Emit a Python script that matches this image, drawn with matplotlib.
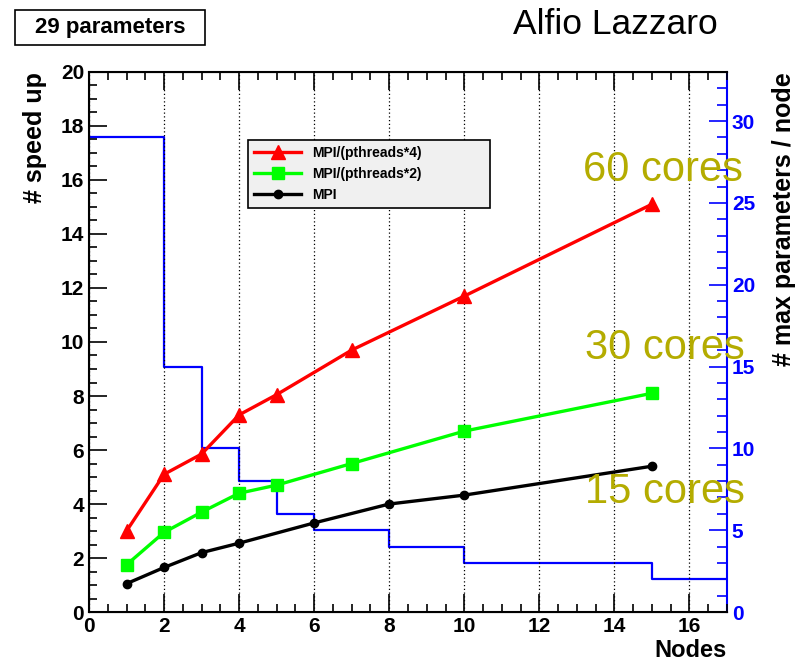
import matplotlib.pyplot as plt
from matplotlib.patches import Rectangle
from matplotlib.ticker import MultipleLocator

plt.rcParams['font.family'] = ['Liberation Sans', 'DejaVu Sans']

# speed up curves
nodes_p4 = [1, 2, 3, 4, 5, 7, 10, 15]
speed_p4 = [3.0, 5.1, 5.85, 7.3, 8.05, 9.7, 11.7, 15.1]
nodes_p2 = [1, 2, 3, 4, 5, 7, 10, 15]
speed_p2 = [1.75, 2.95, 3.7, 4.4, 4.7, 5.5, 6.7, 8.1]
nodes_mpi = [1, 2, 3, 4, 6, 8, 10, 15]
speed_mpi = [1.05, 1.65, 2.2, 2.55, 3.3, 4.0, 4.33, 5.4]

# max parameters per node (step histogram)
step_edges = [0, 2, 3, 4, 5, 6, 8, 10, 15, 17]
step_vals = [29, 15, 10, 8, 6, 5, 4, 3, 2, 2]

fig = plt.figure(figsize=(7.98, 6.66), dpi=100)
ax = fig.add_axes([0.1115, 0.081, 0.7995, 0.811])
ax2 = ax.twinx()

ax.set_zorder(2)
ax.patch.set_visible(False)

ax2.step(step_edges, step_vals, where='post', color='#0000ff', lw=1.6)
ax2.set_ylim(0, 33)
ax2.yaxis.set_major_locator(MultipleLocator(5))
ax2.yaxis.set_minor_locator(MultipleLocator(1))
ax2.tick_params(axis='y', which='both', direction='in', colors='#0000ff',
                labelsize=15, width=1.2)
ax2.tick_params(axis='y', which='major', length=13)
ax2.tick_params(axis='y', which='minor', length=7)
for lab in ax2.get_yticklabels():
    lab.set_fontweight('bold')
ax2.spines['right'].set_color('#0000ff')
ax2.spines['right'].set_linewidth(1.5)
ax2.set_ylabel('# max parameters / node', loc='top', fontsize=18,
               fontweight='bold', labelpad=12)

ax.plot(nodes_p4, speed_p4, color='#ff0000', lw=2.4, marker='^', ms=10,
        label='MPI/(pthreads*4)')
ax.plot(nodes_p2, speed_p2, color='#00ff00', lw=2.4, marker='s', ms=9,
        label='MPI/(pthreads*2)')
ax.plot(nodes_mpi, speed_mpi, color='black', lw=2.4, marker='o', ms=6,
        label='MPI')

ax.set_xlim(0, 17)
ax.set_ylim(0, 20)
ax.xaxis.set_major_locator(MultipleLocator(2))
ax.xaxis.set_minor_locator(MultipleLocator(0.5))
ax.yaxis.set_major_locator(MultipleLocator(2))
ax.yaxis.set_minor_locator(MultipleLocator(0.5))
ax.tick_params(which='both', direction='in', top=True, right=False,
               labelsize=15, width=1.2)
ax.tick_params(which='major', length=13)
ax.tick_params(which='minor', length=6)
for lab in ax.get_xticklabels() + ax.get_yticklabels():
    lab.set_fontweight('bold')
ax.grid(axis='x', which='major', color='black', ls=(0, (1, 2)), lw=0.9)
for s in ['left', 'bottom', 'top']:
    ax.spines[s].set_linewidth(1.5)
ax.spines['right'].set_visible(False)

ax.set_xlabel('Nodes', loc='right', fontsize=17, fontweight='bold', labelpad=2)
ax.set_ylabel('# speed up', loc='top', fontsize=18, fontweight='bold', labelpad=10)

leg = ax.legend(loc='upper left', bbox_to_anchor=(0.249, 0.744, 0.379, 0.13),
                mode='expand', borderaxespad=0,
                prop={'weight': 'bold', 'size': 10},
                fancybox=False, framealpha=1, facecolor='#f0f0f0',
                edgecolor='black', handlelength=3.4, borderpad=0.45,
                labelspacing=0.5)
leg.get_frame().set_linewidth(1.2)

# title box
fig.patches.append(Rectangle((15 / 798, 1 - 45 / 666), 190 / 798, 35 / 666,
                             transform=fig.transFigure, fc='white', ec='black',
                             lw=1.2))
fig.text(110 / 798, 1 - 28 / 666, '29 parameters', ha='center', va='center',
         fontsize=16, fontweight='bold')
fig.text(615 / 798, 1 - 25 / 666, 'Alfio Lazzaro', ha='center', va='center',
         fontsize=25.5)

core_color = '#b4ac00'
fig.text(663 / 798, 1 - 170 / 666, '60 cores', ha='center', va='center',
         fontsize=30, color=core_color, zorder=10)
fig.text(665 / 798, 1 - 348 / 666, '30 cores', ha='center', va='center',
         fontsize=30, color=core_color, zorder=10)
fig.text(665 / 798, 1 - 492 / 666, '15 cores', ha='center', va='center',
         fontsize=30, color=core_color, zorder=10)

fig.savefig('out.png', dpi=100)
